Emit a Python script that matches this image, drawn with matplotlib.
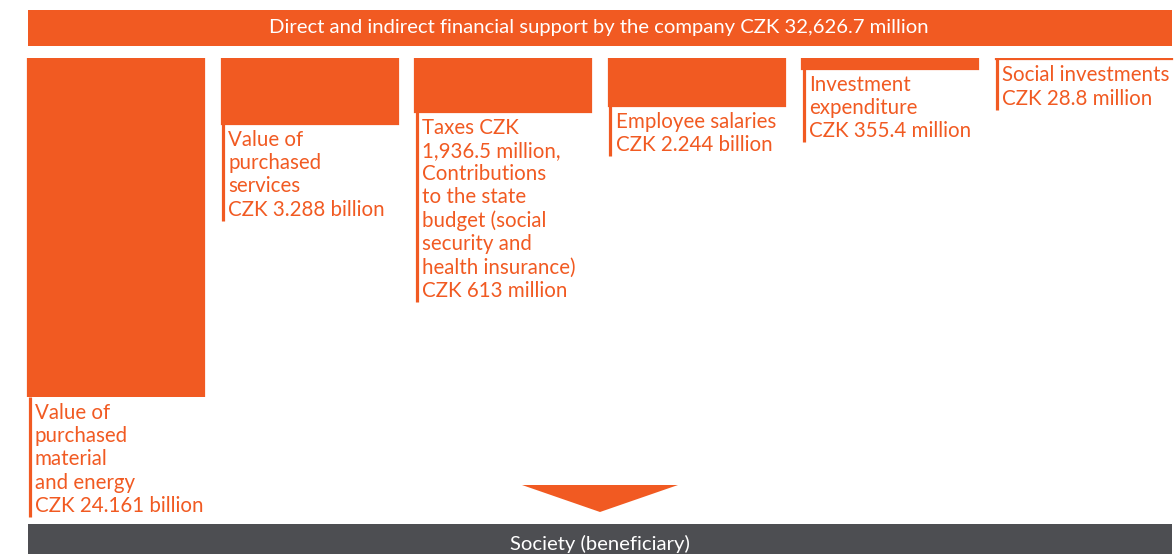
import matplotlib
matplotlib.use("Agg")
import matplotlib.pyplot as plt
from matplotlib.patches import Rectangle, Polygon

# ---- data ----
title = "Direct and indirect financial support by the company CZK 32,626.7 million"
footer = "Society (beneficiary)"
values = [24161.0, 3288.0, 1936.5 + 613.0, 2244.0, 355.4, 28.8]   # CZK million
labels = [
    "Value of\npurchased\nmaterial\nand energy\nCZK 24.161 billion",
    "Value of\npurchased\nservices\nCZK 3.288 billion",
    "Taxes CZK\n1,936.5 million,\nContributions\nto the state\nbudget (social\nsecurity and\nhealth insurance)\nCZK 613 million",
    "Employee salaries\nCZK 2.244 billion",
    "Investment\nexpenditure\nCZK 355.4 million",
    "Social investments\nCZK 28.8 million",
]

ORANGE = "#F15A22"
GREY = "#4D4E52"
W, H = 1176, 554
plt.rcParams['font.family'] = ['Lato', 'DejaVu Sans']

fig = plt.figure(figsize=(W / 100, H / 100), dpi=100)

# background axes in pixel coordinates
bg = fig.add_axes([0, 0, 1, 1])
bg.set_xlim(0, W)
bg.set_ylim(H, 0)
bg.axis('off')

left, right = 28, 1172
bg.add_patch(Rectangle((left, 10), right - left, 36, color=ORANGE, lw=0))
bg.text(599, 28, title, color='white', ha='center', va='center', fontsize=14.6)

bg.add_patch(Polygon([(522, 485), (678, 485), (600, 512)], closed=True, color=ORANGE, lw=0))
bg.add_patch(Rectangle((left, 524), right - left, 40, color=GREY, lw=0))
bg.text(600, 544, footer, color='white', ha='center', va='center', fontsize=14.6)

# bar axes (power scale, growing downward)
top_px, bot_px = 58, 397
ax = fig.add_axes([0, (H - bot_px) / H, 1, (bot_px - top_px) / H])
ax.set_xlim(0, W)
ax.set_yscale('function', functions=(lambda v: abs(v) ** 0.82, lambda v: abs(v) ** (1 / 0.82)))
ax.set_ylim(max(values), 0)
ax.axis('off')

col_w = 176
step = 193.5
xs = [left + i * step for i in range(len(values))]
ax.bar(xs, values, width=col_w, align='edge', color=ORANGE, edgecolor=ORANGE, linewidth=1.6)

texts = []
for x, v, lab in zip(xs, values, labels):
    t = ax.annotate(lab, xy=(x, v), xytext=(7, -6), textcoords='offset pixels',
                    ha='left', va='top', color=ORANGE, fontsize=14.8, linespacing=1.2,
                    annotation_clip=False)
    texts.append(t)

fig.canvas.draw()
r = fig.canvas.get_renderer()
inv = bg.transData.inverted()
for x, v, t in zip(xs, values, texts):
    bb = t.get_window_extent(r)
    y_bot = inv.transform((0, bb.y0))[1] + 1
    y_top = inv.transform(ax.transData.transform((x, v)))[1]
    bg.plot([x + 1.5, x + 1.5], [y_top, y_bot], color=ORANGE, lw=2.3, solid_capstyle='butt')

fig.savefig("out.png", dpi=100)
